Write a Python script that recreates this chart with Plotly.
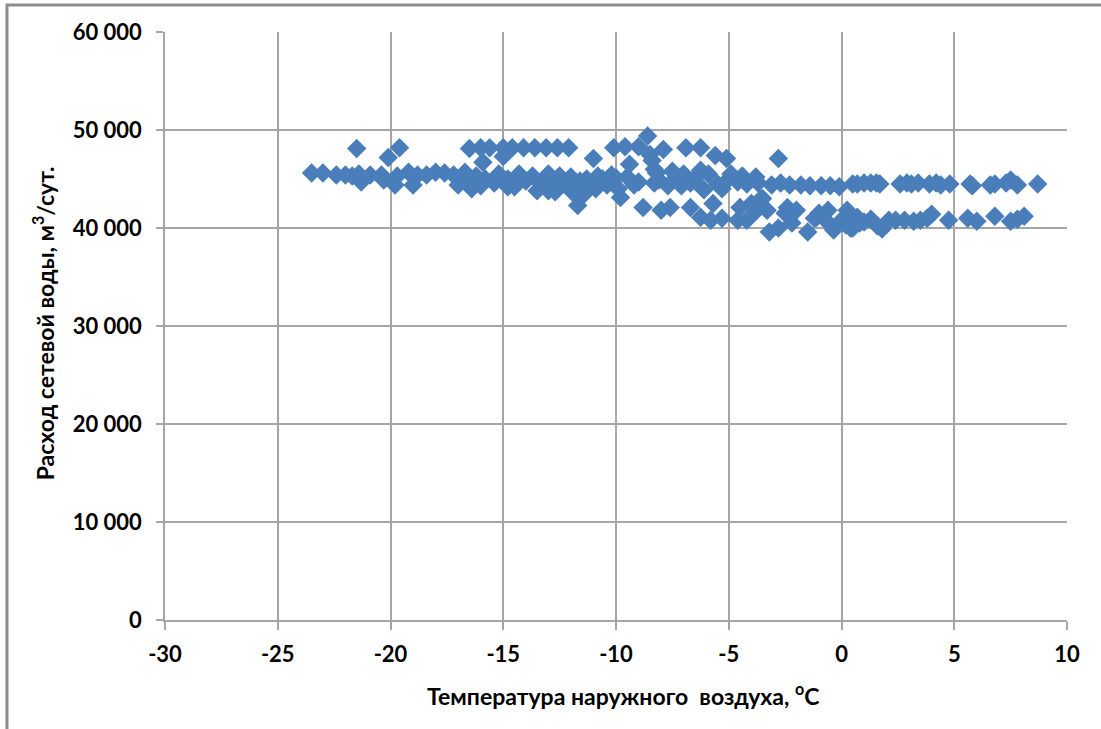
import plotly.graph_objects as go

# Outdoor air temperature, deg C
temperature = [
    -23.5, -23.0, -22.4, -22.0, -21.7, -21.5, -21.4, -21.3, -20.9, -20.4,
    -20.3, -20.1, -19.8, -19.7, -19.6, -19.2, -19.0, -18.8, -18.4, -18.0,
    -17.6, -17.2, -17.0, -16.7, -16.6, -16.5, -16.4, -16.2, -16.0, -16.0,
    -15.9, -15.8, -15.6, -15.4, -15.2, -15.0, -15.0, -14.8, -14.8, -14.6,
    -14.5, -14.3, -14.1, -14.0, -13.7, -13.6, -13.5, -13.3, -13.1, -13.0,
    -13.0, -12.8, -12.7, -12.6, -12.5, -12.3, -12.1, -12.0, -11.9, -11.7,
    -11.6, -11.4, -11.3, -11.2, -11.0, -10.9, -10.8, -10.6, -10.4, -10.2,
    -10.1, -10.0, -9.9, -9.8, -9.6, -9.5, -9.4, -9.2, -9.0, -9.0,
    -8.8, -8.6, -8.5, -8.4, -8.3, -8.3, -8.2, -8.1, -8.0, -7.9,
    -7.7, -7.6, -7.5, -7.3, -7.1, -7.0, -6.9, -6.7, -6.7, -6.5,
    -6.4, -6.25, -6.25, -6.25, -6.1, -5.9, -5.8, -5.7, -5.6, -5.5,
    -5.3, -5.3, -5.1, -5.05, -4.9, -4.6, -4.6, -4.5, -4.4, -4.2,
    -4.2, -4.0, -3.8, -3.8, -3.7, -3.6, -3.5, -3.3, -3.2, -3.1,
    -2.8, -2.8, -2.7, -2.5, -2.4, -2.3, -2.2, -2.0, -1.8, -1.5,
    -1.4, -1.2, -1.1, -1.0, -0.9, -0.7, -0.6, -0.5, -0.35, -0.1,
    0.0, 0.2, 0.25, 0.4, 0.5, 0.5, 0.7, 0.7, 0.8, 1.0,
    1.0, 1.3, 1.3, 1.55, 1.6, 1.7, 1.8, 2.1, 2.4, 2.6,
    2.8, 2.9, 3.1, 3.2, 3.4, 3.5, 3.8, 3.9, 4.0, 4.2,
    4.4, 4.75, 4.8, 5.6, 5.7, 5.8, 6.0, 6.6, 6.8, 6.8,
    7.3, 7.5, 7.5, 7.8, 7.8, 8.1, 8.7,
]

# Network water flow, m3/day
flow = [
    45600, 45600, 45400, 45400, 45300, 48100, 45500, 44700, 45400, 45400,
    44900, 47200, 44400, 45300, 48200, 45700, 44400, 45400, 45400, 45700,
    45600, 45400, 44400, 45700, 45000, 48100, 44000, 45300, 48200, 44300,
    46700, 45000, 48200, 44600, 45500, 48200, 47300, 45000, 44200, 48200,
    44200, 45500, 48200, 44800, 45300, 48200, 43800, 44700, 48200, 45500,
    43800, 44200, 43700, 48200, 45300, 44500, 48200, 45200, 43600, 42300,
    44800, 43500, 45000, 44500, 47100, 44000, 45300, 45000, 44400, 45400,
    48200, 45100, 44000, 43100, 48300, 45200, 46500, 44400, 48300, 44700,
    42100, 49400, 47500, 46900, 44600, 46000, 45600, 44900, 41800, 48000,
    44300, 42100, 45800, 45200, 44300, 45500, 48200, 44600, 42100, 45100,
    44600, 48200, 45900, 41100, 43900, 45500, 40800, 42500, 47400, 44500,
    41000, 44000, 47100, 44900, 45500, 44700, 40800, 42100, 45300, 44500,
    40800, 42500, 45200, 41700, 44600, 42900, 43000, 41800, 39600, 44400,
    47100, 40000, 44600, 41500, 42100, 44400, 40500, 41800, 44400, 39600,
    44300, 41000, 41100, 41500, 44300, 40800, 41800, 44300, 39800, 44200,
    40800, 40300, 41800, 40000, 44500, 40000, 41100, 44500, 40500, 44600,
    40600, 44600, 40900, 44600, 40200, 44500, 39900, 40800, 40800, 44500,
    40800, 44600, 44500, 40700, 44600, 40800, 41000, 44500, 41400, 44600,
    44400, 40800, 44500, 41000, 44500, 44300, 40700, 44400, 44500, 41200,
    44600, 44900, 40700, 40900, 44400, 41200, 44500,
]

x_ticks = [-30, -25, -20, -15, -10, -5, 0, 5, 10]
y_ticks = [0, 10000, 20000, 30000, 40000, 50000, 60000]
y_tick_labels = ["0", "10 000", "20 000", "30 000", "40 000", "50 000", "60 000"]

FONT = "Lato"
GRID = "#a6a6a6"
MARKER = "#4a7ebb"
TICK_FONT = dict(family=FONT, size=22, color="black", weight="bold")
TITLE_FONT = dict(family=FONT, size=23, color="black", weight="bold")

fig = go.Figure()
fig.add_trace(go.Scatter(
    x=temperature,
    y=flow,
    mode="markers",
    marker=dict(symbol="diamond", size=15, color=MARKER, line=dict(width=0)),
    showlegend=False,
    hoverinfo="x+y",
))

fig.update_layout(
    width=1101,
    height=729,
    margin=dict(l=165, r=34, t=32, b=109),
    paper_bgcolor="white",
    plot_bgcolor="white",
    xaxis=dict(
        range=[-30, 10],
        tickvals=x_ticks,
        ticktext=[str(v) for v in x_ticks],
        showgrid=True,
        gridcolor=GRID,
        gridwidth=1.5,
        zeroline=False,
        showline=True,
        linecolor=GRID,
        linewidth=1.5,
        ticks="outside",
        ticklen=8,
        tickcolor=GRID,
        tickwidth=1.5,
        ticklabelstandoff=6,
        tickfont=TICK_FONT,
    ),
    yaxis=dict(
        range=[0, 60000],
        tickvals=y_ticks,
        ticktext=y_tick_labels,
        showgrid=True,
        gridcolor=GRID,
        gridwidth=1.5,
        zeroline=False,
        showline=True,
        linecolor=GRID,
        linewidth=1.5,
        ticks="outside",
        ticklen=7,
        tickcolor=GRID,
        tickwidth=1.5,
        ticklabelstandoff=10,
        tickfont=TICK_FONT,
    ),
    annotations=[
        dict(
            text="Температура наружного  воздуха, <sup>o</sup>C",
            xref="paper", yref="paper",
            x=0.508, y=-0.126,
            xanchor="center", yanchor="middle",
            showarrow=False,
            font=TITLE_FONT,
        ),
        dict(
            text="Расход сетевой воды, м<sup>3</sup>/сут.",
            xref="paper", yref="paper",
            x=-0.135, y=0.505,
            xanchor="center", yanchor="middle",
            textangle=-90,
            showarrow=False,
            font=TITLE_FONT,
        ),
    ],
    shapes=[
        # outer chart frame
        dict(
            type="rect", xref="paper", yref="paper",
            x0=-0.1752, x1=1.6, y0=-0.6, y1=1.0459,
            line=dict(color="#8c8c8c", width=3),
            layer="above",
        ),
    ],
)

fig.write_html("out.html")
